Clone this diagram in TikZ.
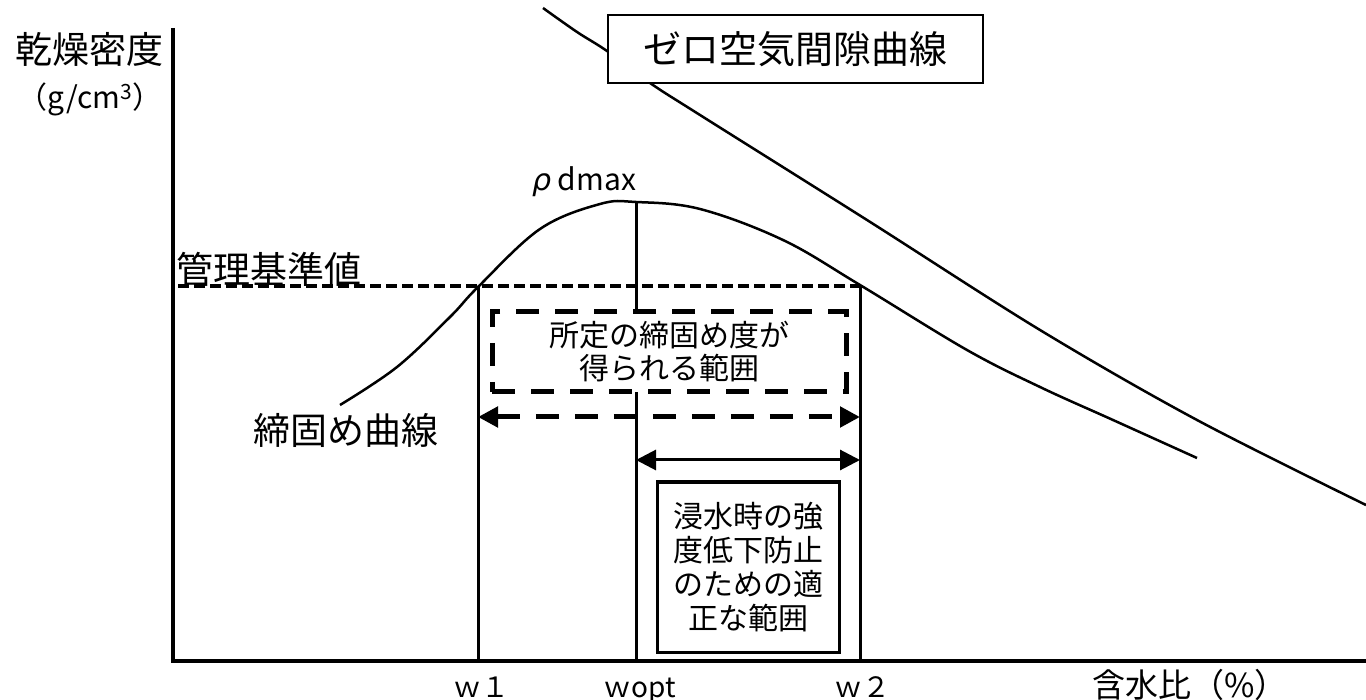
\documentclass[tikz,border=0pt]{standalone}
\usepackage{fontspec}
\setmainfont{Noto Sans CJK JP}
\newfontfamily\greekfont{DejaVu Sans}
\usetikzlibrary{arrows.meta,positioning}

\begin{document}
\begin{tikzpicture}[x=1pt, y=-1pt, inner sep=0pt, >={Triangle[length=20pt,width=20pt]},
                    thick line/.style={line width=3pt},
                    curve line/.style={line width=2.5pt, line join=round},
                    big label/.style={font=\fontsize{37}{40}\selectfont},
                    mid label/.style={font=\fontsize{30}{33}\selectfont, align=center},
                    axis label/.style={font=\fontsize{28}{30}\selectfont, anchor=base},
                    range box/.style={draw, fill=white, align=center, font=\fontsize{30}{34}\selectfont}]

\useasboundingbox (0,0) rectangle (1366,700);

% curves
\draw[curve line] plot[smooth, tension=0.55] coordinates {(543,8) (577,32) (607,51) (650,83) (700,115) (867,220) (1040,330) (1197,420) (1366,505)};
\draw[curve line] plot[smooth, tension=0.6] coordinates {(340,405) (397,367) (450,317) (478,287) (540,229) (600,204) (636,202) (700,209) (783,240) (860,285) (967,350) (1040,387) (1113,420) (1197,458)};

% axes
\coordinate (O) at (173,661);
\coordinate (ytop) at (173,28);
\coordinate (xend) at (1366,661);
\draw[line width=4pt] (ytop) -- (O) -- (xend);

\node[draw, fill=white, line width=2pt, minimum width=375pt, minimum height=68pt,
      font=\fontsize{38}{40}\selectfont] (zero) at (795.5,49) {ゼロ空気間隙曲線};

\coordinate (std) at (178,286);
\coordinate (w1) at (478,286);
\coordinate (peak) at (636,202);
\coordinate (w2) at (860,286);

\draw[line width=3.5pt, dash pattern=on 11pt off 5pt] (std) -- (w2);
\draw[thick line] (w1) -- (w1 |- O);
\draw[thick line] (peak) -- (peak |- O);
\draw[thick line] (w2) -- (w2 |- O);

\node[range box, line width=5pt, dash pattern=on 23pt off 16pt, minimum width=354pt, minimum height=80pt,
      font=\fontsize{30}{33}\selectfont] (range) at (669,352) {所定の締固め度が\\得られる範囲};

\coordinate (d1) at (478,417);
\coordinate (d2) at (860,417);
\draw[<->, line width=5pt, dash pattern=on 23pt off 16pt] (d1) -- (d2);

\coordinate (s1) at (636,460);
\coordinate (s2) at (860,460);
\draw[<->, thick line] (s1) -- (s2);

\node[range box, thick line, minimum width=182pt, minimum height=170pt] (soak) at (748,567) {浸水時の強\\度低下防止\\のための適\\正な範囲};

% labels
\node[big label] (dens) at (90,49) {乾燥密度};
\node[mid label, below=16pt of dens] (unit) {（g/cm\textsuperscript{3}）};
\node[big label] (stdlabel) at (269,269) {管理基準値};
\node[mid label] (rho) at (584,182) {{\greekfont\itshape ρ}\ dmax};
\node[big label] (comp) at (346,430) {締固め曲線};
\node[axis label] (n1) at (481,697) {ｗ１};
\node[axis label] (n2) at (640,697) {ｗopt};
\node[axis label] (n3) at (862,697) {ｗ２};
\node[axis label, font=\fontsize{33}{35}\selectfont] (wc) at (1190,697) {含水比（\%）};

\end{tikzpicture}
\end{document}
